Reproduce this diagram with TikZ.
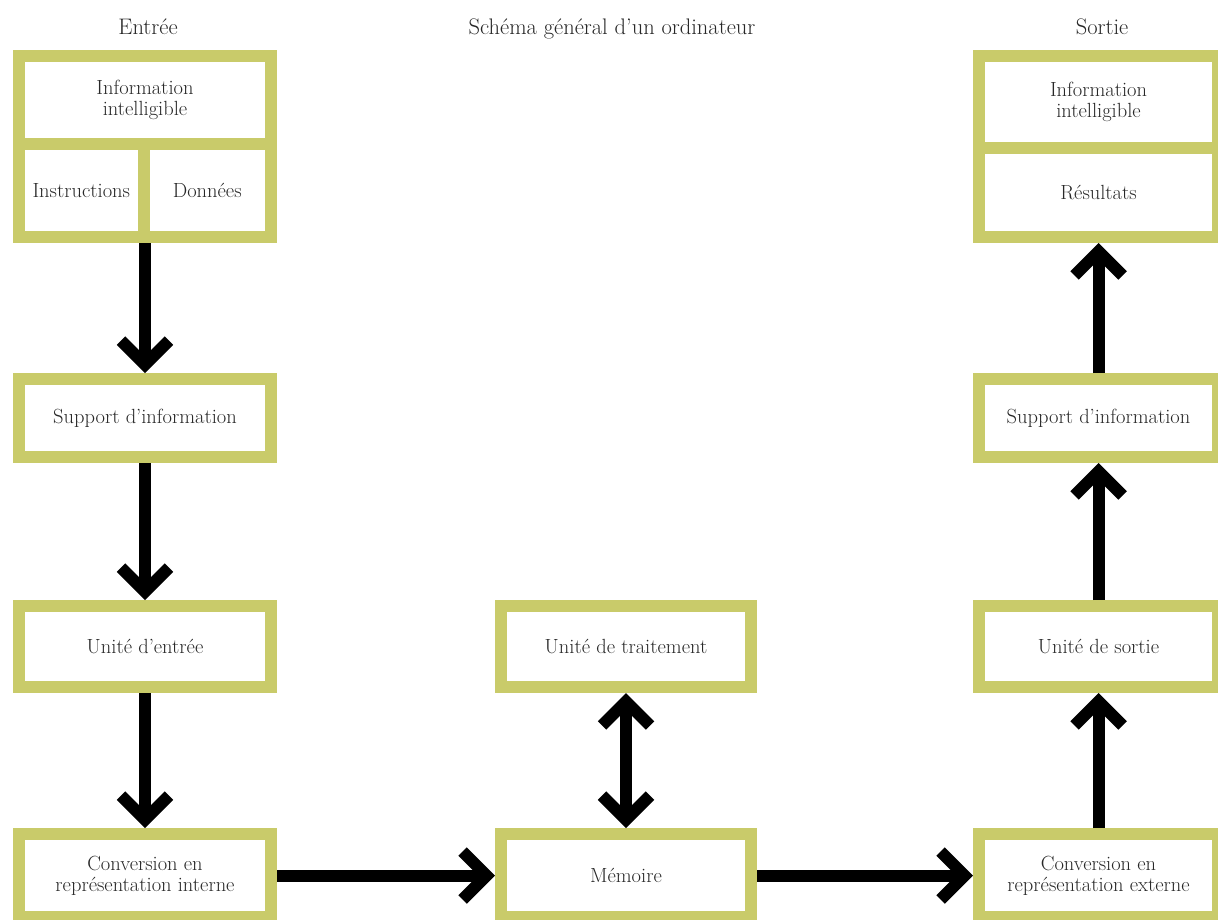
\documentclass[tikz,border=0pt]{standalone}
\usetikzlibrary{arrows.meta, positioning}
\definecolor{cadre}{RGB}{201,203,106}
\definecolor{texte}{RGB}{40,40,40}

\begin{document}
\begin{tikzpicture}[x=1pt, y=-1pt, >={Straight Barb[length=24pt, width=48pt]},
  block/.style={draw=cadre, line width=12pt, fill=white, inner sep=0pt, outer sep=6pt,
    align=center, text=texte, font=\fontsize{20.5}{21}\selectfont},
  fleche/.style={line width=12pt, ->},
  titre/.style={anchor=base, text=texte, font=\fontsize{22.5}{24}\selectfont}]
  \path[use as bounding box, fill=white] (0,0) rectangle (1218,919);
  % titres
  \node[titre] (tin)  at (148,34)  {Entrée};
  \node[titre] (tgen) at (612,34)  {Schéma général d'un ordinateur};
  \node[titre] (tout) at (1102,34) {Sortie};
  % entree
  \node[block, minimum width=252, minimum height=88]    (info)   at (145,100)    {Information\\intelligible};
  \node[block, minimum width=124.5, minimum height=93]  (instr)  at (81.25,190.5) {Instructions};
  \node[block, minimum width=127.5, minimum height=93]  (donn)   at (207.25,190.5) {Données};
  \node[block, minimum width=252, minimum height=78]    (supin)  at (145,418)    {Support d'information};
  \node[block, minimum width=252, minimum height=81]    (unin)   at (145,646.5)  {Unité d'entrée};
  \node[block, minimum width=252, minimum height=83]    (convin) at (145,875.5)  {Conversion en\\représentation interne};
  % traitement
  \node[block, minimum width=250, minimum height=81]    (trait)  at (626,646.5)  {Unité de traitement};
  \node[block, minimum width=250, minimum height=83]    (mem)    at (626,875.5)  {Mémoire};
  % sortie
  \node[block, minimum width=239, minimum height=92]    (infout) at (1098.5,102) {Information\\intelligible};
  \node[block, minimum width=239, minimum height=89]    (res)    at (1098.5,192.5) {Résultats};
  \node[block, minimum width=239, minimum height=78]    (supout) at (1098.5,418) {Support d'information};
  \node[block, minimum width=239, minimum height=81]    (unout)  at (1098.5,646.5) {Unité de sortie};
  \node[block, minimum width=239, minimum height=83]    (convout) at (1098.5,875.5) {Conversion en\\représentation externe};
  % fleches
  \draw[fleche] (supin.north |- instr.south) -- (supin.north);
  \draw[fleche] (supin) -- (unin);
  \draw[fleche] (unin) -- (convin);
  \draw[fleche] (convin) -- (mem);
  \draw[fleche] (mem) -- (convout);
  \draw[fleche, <->] (trait) -- (mem);
  \draw[fleche] (convout) -- (unout);
  \draw[fleche] (unout) -- (supout);
  \draw[fleche] (supout) -- (res);
\end{tikzpicture}
\end{document}
